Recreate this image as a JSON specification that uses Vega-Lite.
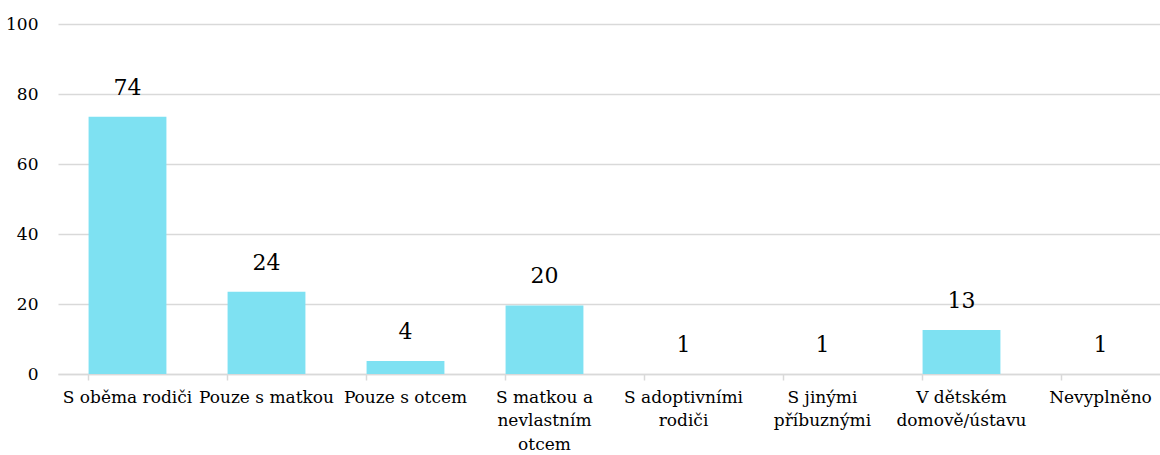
{
  "$schema": "https://vega.github.io/schema/vega-lite/v6.json",
  "width": 1112,
  "height": 350,
  "autosize": "none",
  "padding": {"left": 58, "top": 24, "right": 0, "bottom": 81},
  "background": "white",
  "config": {"view": {"stroke": null}, "font": "DejaVu Serif"},
  "data": {
    "values": [
      {"category": "S oběma rodiči", "bar": 73.5, "count": 74},
      {"category": "Pouze s matkou", "bar": 23.5, "count": 24},
      {"category": "Pouze s otcem", "bar": 3.7, "count": 4},
      {"category": "S matkou a nevlastním otcem", "bar": 19.6, "count": 20},
      {"category": "S adoptivními rodiči", "bar": 0, "count": 1},
      {"category": "S jinými příbuznými", "bar": 0, "count": 1},
      {"category": "V dětském domově/ústavu", "bar": 12.6, "count": 13},
      {"category": "Nevyplněno", "bar": 0, "count": 1}
    ]
  },
  "encoding": {
    "x": {
      "field": "category",
      "type": "nominal",
      "sort": null,
      "scale": {"paddingInner": 0.44, "paddingOuter": 0.22},
      "axis": {
        "title": null,
        "labelAngle": 0,
        "labelFont": "DejaVu Serif",
        "labelFontSize": 17,
        "labelColor": "#000000",
        "labelLineHeight": 23.5,
        "labelPadding": 9,
        "labelBaseline": "top",
        "domainColor": "#d9d9d9",
        "domainWidth": 1.5,
        "tickColor": "#d9d9d9",
        "tickWidth": 1.5,
        "tickSize": 6,
        "bandPosition": 0,
        "grid": false,
        "labelExpr": "datum.value == 'S matkou a nevlastním otcem' ? ['S matkou a', 'nevlastním', 'otcem'] : datum.value == 'S adoptivními rodiči' ? ['S adoptivními', 'rodiči'] : datum.value == 'S jinými příbuznými' ? ['S jinými', 'příbuznými'] : datum.value == 'V dětském domově/ústavu' ? ['V dětském', 'domově/ústavu'] : datum.value"
      }
    }
  },
  "layer": [
    {
      "mark": {"type": "bar", "color": "#7ee1f2"},
      "encoding": {
        "y": {
          "field": "bar",
          "type": "quantitative",
          "scale": {"domain": [0, 100], "nice": false},
          "axis": {
            "title": null,
            "values": [0, 20, 40, 60, 80, 100],
            "labelFont": "DejaVu Serif",
            "labelFontSize": 17,
            "labelColor": "#000000",
            "labelPadding": 20,
            "domain": false,
            "ticks": false,
            "gridColor": "#d9d9d9",
            "gridWidth": 1.5
          }
        }
      }
    },
    {
      "mark": {"type": "text", "dy": -29, "fontSize": 22, "font": "DejaVu Serif", "color": "#000000", "baseline": "middle"},
      "encoding": {
        "y": {"field": "bar", "type": "quantitative"},
        "text": {"field": "count", "type": "quantitative"}
      }
    }
  ]
}
